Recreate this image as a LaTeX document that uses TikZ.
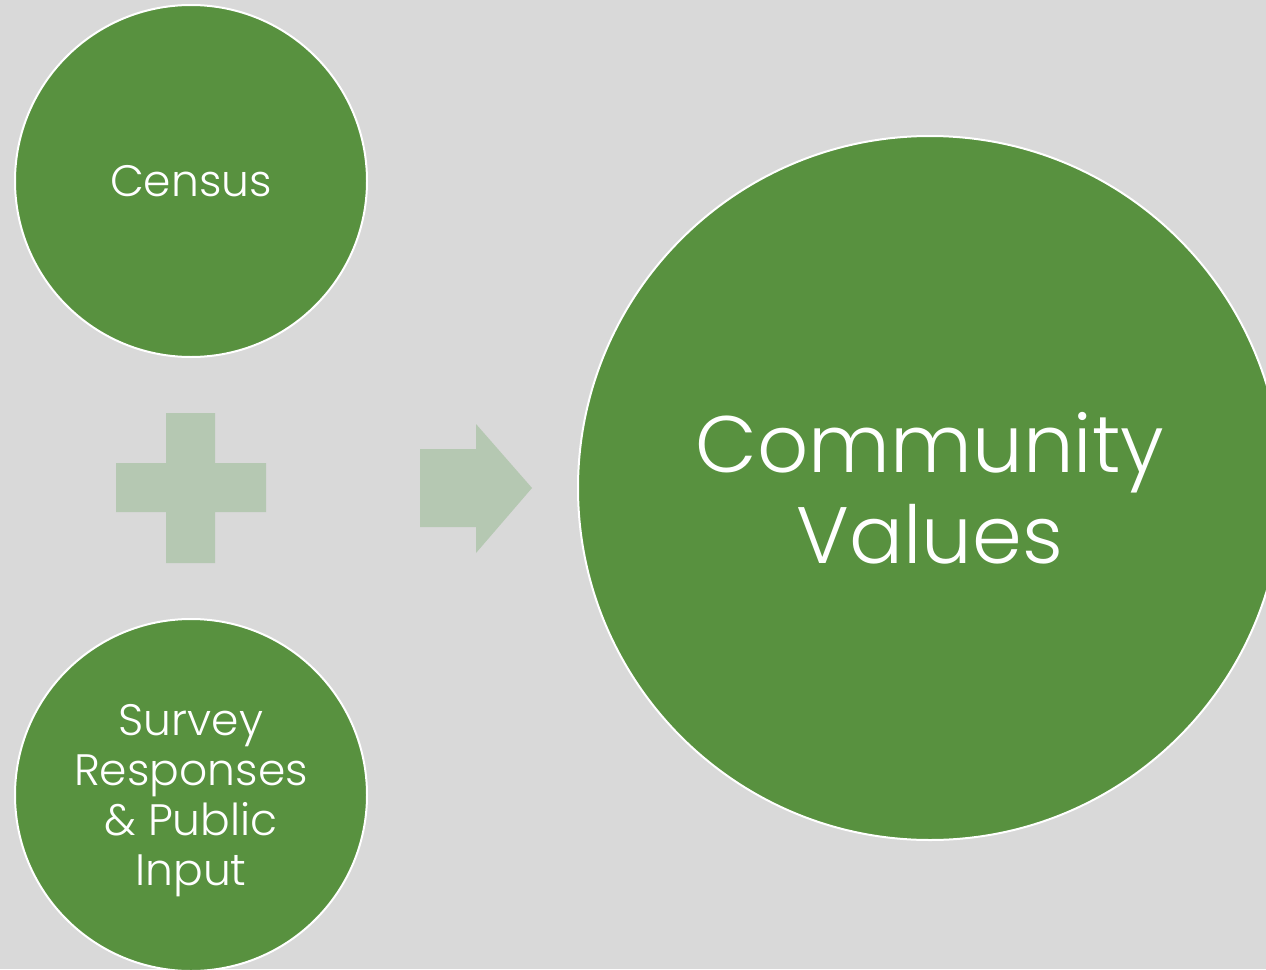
\documentclass[tikz,border=0pt]{standalone}
\usepackage{fontspec}
\newfontfamily\gfont{Poppins Light}
\definecolor{bgcol}{HTML}{D9D9D9}
\definecolor{greencol}{HTML}{58913F}
\definecolor{palecol}{HTML}{B5C8B2}
\begin{document}
\begin{tikzpicture}[x=1pt,y=-1pt,
  bubble/.style={circle, fill=greencol, draw=white, line width=2pt, inner sep=0pt,
    text=white, align=center, font=\gfont},
  pale/.style={fill=palecol, draw=none}]
  \fill[bgcol] (0,0) rectangle (1266,969);
  \useasboundingbox (0,0) rectangle (1266,969);
  \clip (0,0) rectangle (1266,969);
  \node[bubble, minimum size=352pt, font=\gfont\fontsize{44}{50}\selectfont] (census) at (191,181) {Census};
  \node[bubble, minimum size=352pt, text depth=0pt, font=\gfont\fontsize{44}{50}\selectfont] (survey) at (191,795) {Survey\\Responses\\\& Public\\Input};
  \node[bubble, minimum size=704pt, font=\gfont\fontsize{80}{91}\selectfont] (values) at (930,488) {Community\\Values};
  \path[pale] (166,413) -- (215,413) -- (215,463) -- (266,463) -- (266,512) -- (215,512)
    -- (215,563) -- (166,563) -- (166,512) -- (116,512) -- (116,463) -- (166,463) -- cycle;
  \path[pale] (420,449) -- (476,449) -- (476,424) -- (532,488) -- (476,553) -- (476,527)
    -- (420,527) -- cycle;
\end{tikzpicture}
\end{document}
